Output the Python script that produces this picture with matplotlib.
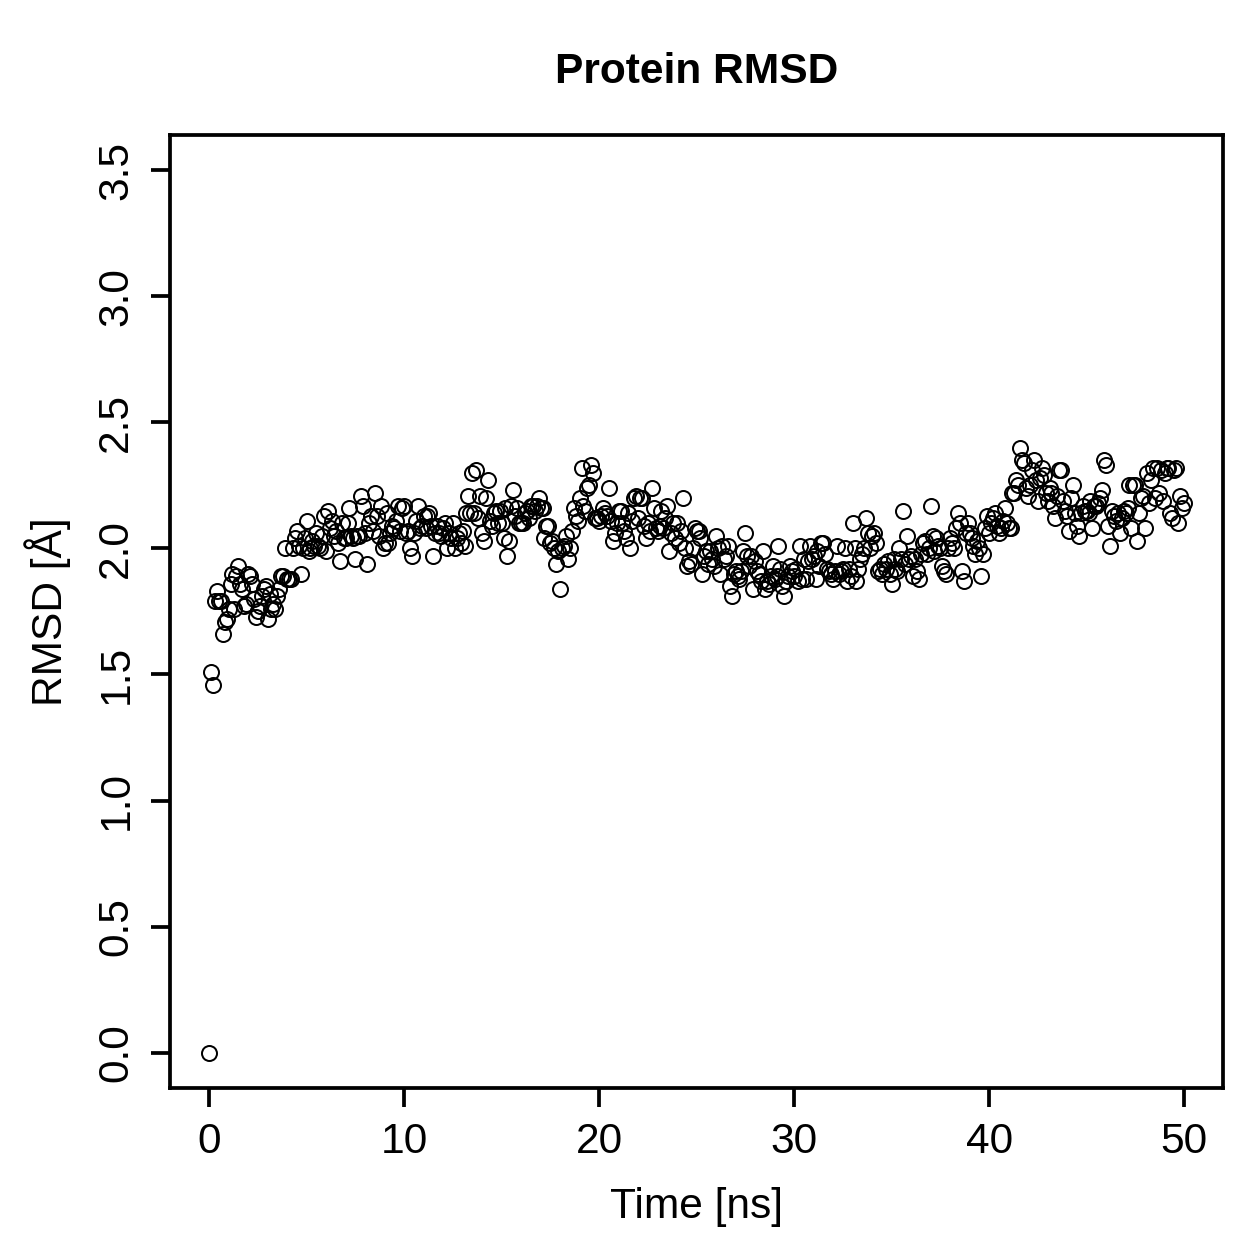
import numpy as np
import matplotlib
matplotlib.use('Agg')
import matplotlib.pyplot as plt

plt.rcParams['font.family'] = ['Liberation Sans', 'DejaVu Sans']

# RMSD a cada 0.1 ns (0 a 50 ns)
rmsd = [
    0.00, 1.51, 1.46, 1.79, 1.83, 1.79, 1.79, 1.66, 1.71, 1.72,
    1.76, 1.86, 1.90, 1.76, 1.89, 1.93, 1.86, 1.84, 1.77, 1.78,
    1.90, 1.89, 1.86, 1.80, 1.73, 1.75, 1.77, 1.81, 1.84, 1.85,
    1.72, 1.82, 1.76, 1.78, 1.76, 1.81, 1.84, 1.89, 1.89, 2.00,
    1.88, 1.88, 1.88, 2.00, 2.04, 2.07, 2.01, 1.90, 2.00, 2.04,
    2.11, 1.99, 2.00, 2.03, 2.01, 2.06, 2.01, 2.00, 2.05, 2.13,
    1.99, 2.15, 2.08, 2.11, 2.05, 2.07, 2.02, 1.95, 2.10, 2.04,
    2.04, 2.10, 2.16, 2.05, 2.04, 1.96, 2.05, 2.05, 2.21, 2.17,
    2.06, 1.94, 2.10, 2.13, 2.07, 2.22, 2.13, 2.05, 2.17, 2.00,
    2.02, 2.14, 2.02, 2.06, 2.09, 2.08, 2.11, 2.17, 2.07, 2.16,
    2.17, 2.06, 2.07, 2.00, 1.97, 2.06, 2.11, 2.17, 2.08, 2.09,
    2.13, 2.08, 2.13, 2.14, 2.09, 1.97, 2.06, 2.09, 2.06, 2.05,
    2.08, 2.10, 2.00, 2.06, 2.04, 2.10, 2.00, 2.04, 2.06, 2.02,
    2.07, 2.01, 2.14, 2.21, 2.14, 2.30, 2.14, 2.31, 2.12, 2.21,
    2.06, 2.03, 2.20, 2.27, 2.11, 2.09, 2.14, 2.15, 2.10, 2.15,
    2.10, 2.04, 2.16, 1.97, 2.03, 2.17, 2.23, 2.13, 2.16, 2.10,
    2.10, 2.10, 2.14, 2.15, 2.12, 2.17, 2.17, 2.15, 2.17, 2.20,
    2.16, 2.16, 2.04, 2.09, 2.09, 2.02, 2.03, 2.00, 1.94, 1.99,
    1.84, 2.00, 2.01, 2.05, 1.96, 2.00, 2.07, 2.16, 2.13, 2.11,
    2.20, 2.32, 2.17, 2.15, 2.24, 2.25, 2.33, 2.30, 2.12, 2.12,
    2.11, 2.13, 2.16, 2.14, 2.13, 2.24, 2.11, 2.03, 2.06, 2.10,
    2.15, 2.15, 2.10, 2.07, 2.04, 2.14, 2.00, 2.11, 2.20, 2.21,
    2.12, 2.20, 2.20, 2.09, 2.04, 2.10, 2.07, 2.24, 2.16, 2.08,
    2.07, 2.09, 2.15, 2.08, 2.12, 2.17, 1.99, 2.06, 2.10, 2.04,
    2.10, 2.02, 2.07, 2.20, 2.00, 1.93, 1.95, 1.94, 2.00, 2.08,
    2.07, 2.07, 2.04, 1.90, 1.97, 1.99, 1.94, 1.99, 1.96, 1.93,
    2.05, 2.00, 1.90, 2.01, 1.96, 1.97, 2.01, 1.85, 1.81, 1.90,
    1.91, 1.89, 1.88, 1.91, 1.99, 2.06, 1.97, 1.93, 1.97, 1.84,
    1.95, 1.91, 1.90, 1.87, 1.99, 1.84, 1.87, 1.86, 1.89, 1.93,
    1.88, 1.89, 2.01, 1.92, 1.85, 1.81, 1.87, 1.89, 1.93, 1.91,
    1.89, 1.92, 1.87, 2.01, 1.88, 1.96, 1.88, 1.95, 2.01, 1.96,
    1.97, 1.88, 1.99, 1.93, 2.02, 2.02, 1.98, 1.92, 1.91, 1.90,
    1.88, 1.91, 2.01, 1.90, 1.91, 1.92, 2.00, 1.87, 1.92, 1.89,
    2.10, 2.00, 1.87, 1.92, 1.96, 1.98, 2.00, 2.12, 2.06, 2.00,
    2.05, 2.06, 2.02, 1.91, 1.92, 1.90, 1.94, 1.92, 1.95, 1.90,
    1.86, 1.96, 1.92, 1.91, 2.00, 1.96, 2.15, 1.94, 2.05, 1.96,
    1.97, 1.89, 1.96, 1.91, 1.88, 1.98, 2.02, 2.03, 1.98, 2.00,
    2.17, 2.05, 1.99, 2.04, 2.01, 2.00, 1.93, 1.91, 1.90, 2.00,
    2.04, 2.02, 2.00, 2.08, 2.14, 2.10, 1.91, 1.87, 2.06, 2.10,
    2.06, 2.04, 2.01, 1.98, 2.03, 2.00, 1.89, 1.98, 2.08, 2.13,
    2.06, 2.10, 2.12, 2.14, 2.09, 2.06, 2.08, 2.11, 2.16, 2.10,
    2.08, 2.08, 2.22, 2.22, 2.27, 2.25, 2.40, 2.35, 2.34, 2.24,
    2.21, 2.25, 2.31, 2.35, 2.27, 2.19, 2.28, 2.32, 2.29, 2.22,
    2.19, 2.24, 2.22, 2.17, 2.12, 2.21, 2.31, 2.31, 2.19, 2.15,
    2.13, 2.07, 2.20, 2.25, 2.14, 2.09, 2.05, 2.14, 2.17, 2.15,
    2.15, 2.14, 2.19, 2.08, 2.17, 2.17, 2.18, 2.20, 2.23, 2.35,
    2.33, 2.09, 2.01, 2.15, 2.13, 2.11, 2.14, 2.06, 2.12, 2.15,
    2.14, 2.16, 2.25, 2.08, 2.25, 2.25, 2.03, 2.14, 2.20, 2.21,
    2.08, 2.30, 2.18, 2.27, 2.32, 2.20, 2.32, 2.22, 2.31, 2.19,
    2.30, 2.32, 2.32, 2.14, 2.12, 2.31, 2.32, 2.10, 2.21, 2.16,
    2.18,
]
tempo = np.arange(len(rmsd)) * 0.1  # ns

fig = plt.figure(figsize=(7, 7), dpi=180)
ax = fig.add_axes([0.135, 0.1366, 0.8357, 0.7562])

ax.plot(tempo, rmsd, 'o', mfc='none', mec='black', ms=6, mew=0.8)

ax.set_xlim(-2, 52)
ax.set_ylim(-0.14, 3.64)
ax.set_xticks(np.arange(0, 51, 10))
ax.set_yticks(np.arange(0, 3.51, 0.5))
ax.set_yticklabels(['%.1f' % v for v in np.arange(0, 3.51, 0.5)], rotation=90, va='center')
ax.tick_params(direction='out', length=7.5, width=1.5, labelsize=17, pad=6)
for s in ax.spines.values():
    s.set_linewidth(1.5)

ax.set_xlabel('Time [ns]', fontsize=17, labelpad=10)
ax.set_ylabel('RMSD [Å]', fontsize=17, labelpad=10)
ax.set_title('Protein RMSD', fontsize=17, fontweight='bold', pad=21)

fig.savefig('out.png', dpi=180)
